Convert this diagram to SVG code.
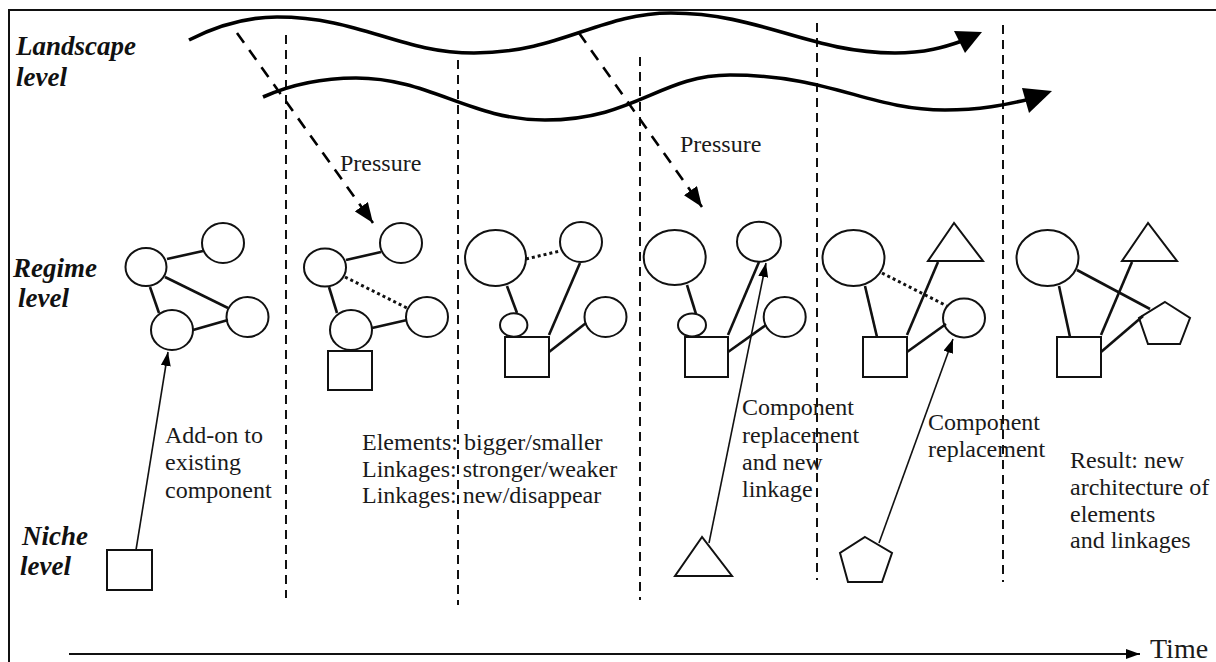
<svg xmlns="http://www.w3.org/2000/svg" width="1216" height="662" viewBox="0 0 1216 662">
<defs>
<style>
.lvl{font-family:"Liberation Serif","Times New Roman",serif;font-weight:bold;font-style:italic;font-size:27px;fill:#111}
.t{font-family:"Liberation Serif","Times New Roman",serif;font-size:24px;fill:#1a1a1a}
.tm{font-family:"Liberation Serif","Times New Roman",serif;font-size:28px;fill:#1a1a1a}
.n{fill:#fff;stroke:#111;stroke-width:2}
.lk{stroke:#111;stroke-width:2.6;fill:none}
.dot{stroke:#111;stroke-width:3;fill:none;stroke-dasharray:3 3}
.vd{stroke:#111;stroke-width:2;fill:none;stroke-dasharray:9 6}
.wave{stroke:#000;stroke-width:3.6;fill:none}
.pr{stroke:#000;stroke-width:2.6;fill:none;stroke-dasharray:12 9}
.na{stroke:#111;stroke-width:1.6;fill:none}
</style>
<marker id="ahP" markerUnits="userSpaceOnUse" viewBox="0 0 20 16" refX="20" refY="8" markerWidth="20" markerHeight="16" orient="auto">
<path d="M0,0 L20,8 L0,16 z" fill="#000"/>
</marker>
<marker id="ahS" markerUnits="userSpaceOnUse" viewBox="0 0 14 10" refX="14" refY="5" markerWidth="14" markerHeight="10" orient="auto">
<path d="M0,0 L14,5 L0,10 z" fill="#000"/>
</marker>
</defs>
<rect x="0" y="0" width="1216" height="662" fill="#fff"/>
<rect x="9" y="10" width="1230" height="680" fill="none" stroke="#111" stroke-width="2"/>

<g id="labels">
<text class="lvl" x="16" y="55">Landscape</text>
<text class="lvl" x="16" y="86">level</text>
<text class="lvl" x="13" y="277">Regime</text>
<text class="lvl" x="18" y="307">level</text>
<text class="lvl" x="22" y="545">Niche</text>
<text class="lvl" x="20" y="575">level</text>
</g>

<g id="dividers">
<line class="vd" x1="286" y1="35" x2="286" y2="598"/>
<line class="vd" x1="458" y1="60" x2="458" y2="605"/>
<line class="vd" x1="640" y1="57" x2="640" y2="600"/>
<line class="vd" x1="817" y1="23" x2="817" y2="580"/>
<line class="vd" x1="1003" y1="25" x2="1003" y2="582"/>
</g>

<g id="landscape-trends">
<path class="wave" d="M189,40 C220,24 250,17 277,17 C360,17 400,53 474,53 C560,53 600,13 671,13 C760,13 810,53 895,53 C925,53 945,47 962,41"/>
<polygon points="954,31 982,32 965,53" fill="#000"/>
<path class="wave" d="M263,97 C290,85 320,78 356,78 C430,78 470,120 545,120 C635,120 660,75 730,75 C830,75 870,110 945,110 C980,110 1005,105 1030,99"/>
<polygon points="1022,88 1052,91 1029,113" fill="#000"/>
</g>

<g id="stage1">
<ellipse class="n" cx="146" cy="267" rx="20.5" ry="19"/>
<ellipse class="n" cx="223" cy="243" rx="21" ry="20"/>
<ellipse class="n" cx="172" cy="330" rx="21" ry="20"/>
<ellipse class="n" cx="247.5" cy="317" rx="21" ry="20"/>
</g>
<g id="stage2">
<ellipse class="n" cx="325" cy="267.5" rx="21" ry="19"/>
<ellipse class="n" cx="401" cy="243" rx="21" ry="20"/>
<ellipse class="n" cx="351" cy="330" rx="21" ry="20"/>
<ellipse class="n" cx="427" cy="317" rx="21" ry="20"/>
<rect class="n" x="328" y="351" width="44" height="39"/>
</g>
<g id="stage3">
<ellipse class="n" cx="495.5" cy="258" rx="30.5" ry="28"/>
<ellipse class="n" cx="581" cy="242" rx="21" ry="20"/>
<ellipse class="n" cx="513.7" cy="325" rx="13.7" ry="11.7"/>
<ellipse class="n" cx="605.5" cy="317" rx="21" ry="20"/>
<rect class="n" x="505" y="337" width="44" height="40"/>
</g>
<g id="stage4">
<ellipse class="n" cx="674.7" cy="257.5" rx="31" ry="27.5"/>
<ellipse class="n" cx="759" cy="241.7" rx="22" ry="20"/>
<ellipse class="n" cx="692" cy="325" rx="14" ry="11.5"/>
<ellipse class="n" cx="784.7" cy="317" rx="21" ry="20"/>
<rect class="n" x="685" y="337" width="43" height="40"/>
</g>
<g id="stage5">
<ellipse class="n" cx="853.5" cy="258" rx="31" ry="28"/>
<polygon class="n" points="954,223 928,261 983,261"/>
<ellipse class="n" cx="964" cy="318" rx="21" ry="19.5"/>
<rect class="n" x="863" y="337" width="44" height="40"/>
</g>
<g id="stage6">
<ellipse class="n" cx="1047.5" cy="258" rx="31" ry="28"/>
<polygon class="n" points="1148,223 1122,261 1177,261"/>
<polygon class="n" points="1165,302 1190,318 1180,344 1148,344 1139,318"/>
<rect class="n" x="1057" y="337" width="44" height="40"/>
</g>
<g id="niche-square"><rect class="n" x="107" y="550" width="45" height="40"/></g>
<g id="niche-triangle"><polygon class="n" points="702,537 675,576 732,576"/></g>
<g id="niche-pentagon"><polygon class="n" points="865,537 892,553 882,582 848,582 840,553"/></g>

<g id="connectors">
<line class="lk" x1="167" y1="259" x2="203" y2="251"/>
<line class="lk" x1="165" y1="277" x2="228" y2="308"/>
<line class="lk" x1="150" y1="287" x2="159" y2="313"/>
<line class="lk" x1="193" y1="330" x2="228" y2="320"/>

<line class="lk" x1="346" y1="260" x2="381" y2="252"/>
<line class="dot" x1="345" y1="277" x2="407" y2="308"/>
<line class="lk" x1="329" y1="287" x2="337" y2="313"/>
<line class="lk" x1="372" y1="328" x2="407" y2="320"/>

<line class="dot" x1="526" y1="259" x2="560" y2="251"/>
<line class="lk" x1="507" y1="286" x2="517" y2="313"/>
<line class="lk" x1="580" y1="263" x2="549" y2="335"/>
<line class="lk" x1="549" y1="352" x2="586" y2="323"/>

<line class="lk" x1="687" y1="285" x2="696" y2="314"/>
<line class="lk" x1="728" y1="335" x2="759" y2="262"/>
<line class="lk" x1="728" y1="352" x2="766" y2="325"/>

<line class="dot" x1="882" y1="273" x2="947" y2="306"/>
<line class="lk" x1="865" y1="286" x2="877" y2="337"/>
<line class="lk" x1="938" y1="262" x2="907" y2="335"/>
<line class="lk" x1="907" y1="352" x2="946" y2="324"/>

<line class="lk" x1="1077" y1="270" x2="1150" y2="309"/>
<line class="lk" x1="1059" y1="286" x2="1070" y2="337"/>
<line class="lk" x1="1132" y1="262" x2="1101" y2="335"/>
<line class="lk" x1="1101" y1="352" x2="1143" y2="316"/>

<line class="pr" x1="237" y1="33" x2="373" y2="223" marker-end="url(#ahP)"/>
<line class="pr" x1="579" y1="33" x2="702" y2="207" marker-end="url(#ahP)"/>

<line class="na" x1="136" y1="550" x2="168" y2="352" marker-end="url(#ahS)"/>
<line class="na" x1="709" y1="543" x2="766" y2="263" marker-end="url(#ahS)"/>
<line class="na" x1="879" y1="543" x2="953" y2="339" marker-end="url(#ahS)"/>

<line x1="69" y1="654" x2="1140" y2="654" stroke="#111" stroke-width="2" marker-end="url(#ahS)"/>
</g>

<g id="texts">
<text class="t" x="340" y="171">Pressure</text>
<text class="t" x="680" y="152">Pressure</text>
<text class="t" x="165" y="443">Add-on to</text>
<text class="t" x="165" y="470">existing</text>
<text class="t" x="165" y="498">component</text>
<text class="t" x="362" y="450">Elements: bigger/smaller</text>
<text class="t" x="362" y="477">Linkages: stronger/weaker</text>
<text class="t" x="362" y="503">Linkages: new/disappear</text>
<text class="t" x="742" y="415">Component</text>
<text class="t" x="742" y="443">replacement</text>
<text class="t" x="742" y="470">and new</text>
<text class="t" x="742" y="497">linkage</text>
<text class="t" x="928" y="430">Component</text>
<text class="t" x="928" y="457">replacement</text>
<text class="t" x="1070" y="468">Result: new</text>
<text class="t" x="1070" y="495">architecture of</text>
<text class="t" x="1070" y="522">elements</text>
<text class="t" x="1070" y="548">and linkages</text>
<text class="tm" x="1150" y="658">Time</text>
</g>
</svg>
